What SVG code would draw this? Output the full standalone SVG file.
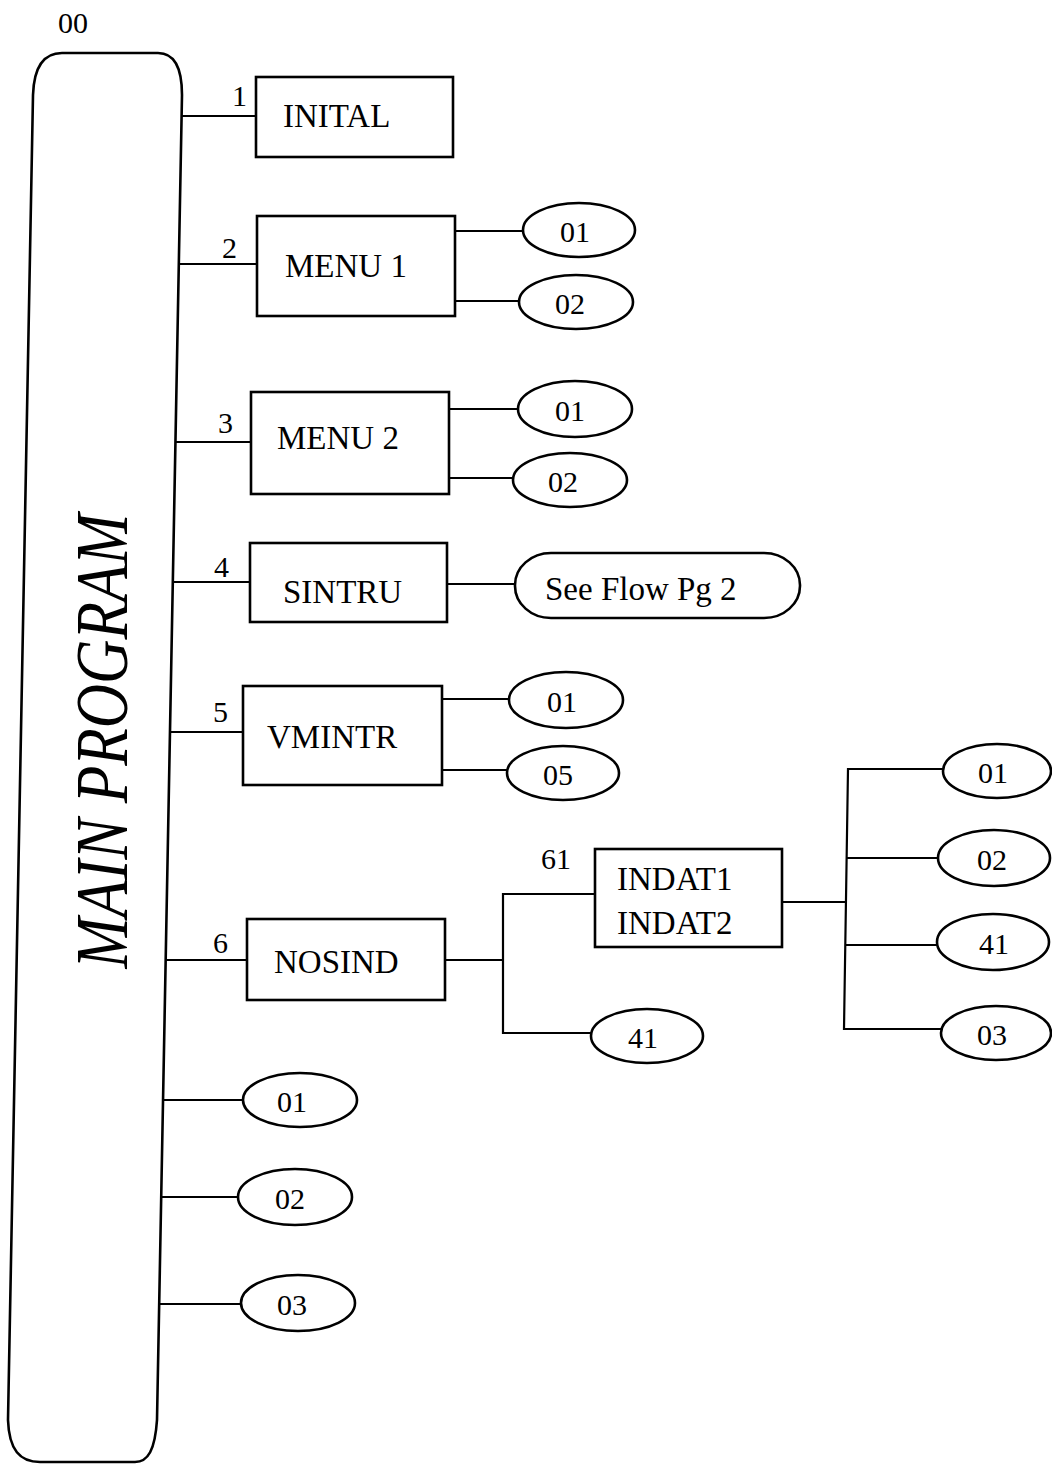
<svg xmlns="http://www.w3.org/2000/svg" width="1052" height="1464" viewBox="0 0 1052 1464">
<style>
.box{fill:#fff;stroke:#000;stroke-width:2.6}
.ov{fill:#fff;stroke:#000;stroke-width:2.6}
.ln{fill:none;stroke:#000;stroke-width:2.2}
.t{font-family:"Liberation Serif","Times New Roman",serif;fill:#000}
.bt{font-size:33px}
.ot{font-size:30px;text-anchor:middle}
.lb{font-size:30px}
</style>
<rect width="1052" height="1464" fill="#fff"/>
<g id="connectors">
<path class="ln" d="M181.6 116H256"/>
<path class="ln" d="M179.2 264H257"/>
<path class="ln" d="M175.8 442H251"/>
<path class="ln" d="M173.2 582H250"/>
<path class="ln" d="M170.3 732H243"/>
<path class="ln" d="M165.8 960H247"/>
<path class="ln" d="M163.1 1100H243"/>
<path class="ln" d="M161.3 1197H238"/>
<path class="ln" d="M159.3 1304H241"/>
<path class="ln" d="M455 231H523"/>
<path class="ln" d="M455 301H519"/>
<path class="ln" d="M449 409H518"/>
<path class="ln" d="M449 478H514"/>
<path class="ln" d="M447 584H515"/>
<path class="ln" d="M442 699H509"/>
<path class="ln" d="M442 770H507"/>
<path class="ln" d="M445 960H503"/>
<path class="ln" d="M595 894H503V1033H591"/>
<path class="ln" d="M782 902H846"/>
<path class="ln" d="M943 769H848L844 1029H941"/>
<path class="ln" d="M847 858H938"/>
<path class="ln" d="M845 945H937"/>
</g>
<g id="main">
<path class="box" d="M33 95C34 65 45 53 62 53L158 53C175 53 182 68 182 95L157 1420C155 1450 148 1462 135 1462L40 1462C20 1462 9 1450 8 1420Z"/>
<text class="t" font-style="italic" font-size="74" text-anchor="middle" textLength="455" lengthAdjust="spacingAndGlyphs" transform="translate(127 741) rotate(-90)">MAIN PROGRAM</text>
<text class="t lb" x="58" y="33">00</text>
</g>
<g id="lbl1"><text class="t lb" x="232" y="106">1</text></g>
<g id="lbl2"><text class="t lb" x="222" y="258">2</text></g>
<g id="lbl3"><text class="t lb" x="218" y="433">3</text></g>
<g id="lbl4"><text class="t lb" x="214" y="577">4</text></g>
<g id="lbl5"><text class="t lb" x="213" y="722">5</text></g>
<g id="lbl6"><text class="t lb" x="213" y="953">6</text></g>
<g id="lbl61"><text class="t lb" x="541" y="869">61</text></g>
<g id="initial"><rect class="box" x="256" y="77" width="197" height="80"/><text class="t bt" x="283" y="127">INITAL</text></g>
<g id="menu1"><rect class="box" x="257" y="216" width="198" height="100"/><text class="t bt" x="285" y="277">MENU 1</text></g>
<g id="menu2"><rect class="box" x="251" y="392" width="198" height="102"/><text class="t bt" x="277" y="449">MENU 2</text></g>
<g id="sintru"><rect class="box" x="250" y="543" width="197" height="79"/><text class="t bt" x="283" y="603">SINTRU</text></g>
<g id="vmintr"><rect class="box" x="243" y="686" width="199" height="99"/><text class="t bt" x="267" y="748">VMINTR</text></g>
<g id="nosind"><rect class="box" x="247" y="919" width="198" height="81"/><text class="t bt" x="274" y="973">NOSIND</text></g>
<g id="indat"><rect class="box" x="595" y="849" width="187" height="98"/><text class="t bt" x="617" y="890">INDAT1</text><text class="t bt" x="617" y="934">INDAT2</text></g>
<g id="seeflow"><rect class="box" x="515" y="553" width="285" height="65" rx="36" ry="32"/><text class="t bt" x="545" y="600" font-size="32">See Flow Pg 2</text></g>
<g id="m1o1"><ellipse class="ov" cx="579" cy="230" rx="56" ry="27"/><text class="t ot" x="575" y="242">01</text></g>
<g id="m1o2"><ellipse class="ov" cx="576" cy="302" rx="57" ry="27"/><text class="t ot" x="570" y="314">02</text></g>
<g id="m2o1"><ellipse class="ov" cx="575" cy="409" rx="57" ry="28"/><text class="t ot" x="570" y="421">01</text></g>
<g id="m2o2"><ellipse class="ov" cx="570" cy="480" rx="57" ry="27"/><text class="t ot" x="563" y="492">02</text></g>
<g id="v1"><ellipse class="ov" cx="566" cy="700" rx="57" ry="28"/><text class="t ot" x="562" y="712">01</text></g>
<g id="v5"><ellipse class="ov" cx="563" cy="773" rx="56" ry="27"/><text class="t ot" x="558" y="785">05</text></g>
<g id="n41"><ellipse class="ov" cx="647" cy="1036" rx="56" ry="27"/><text class="t ot" x="643" y="1048">41</text></g>
<g id="i01"><ellipse class="ov" cx="997" cy="771" rx="54" ry="27"/><text class="t ot" x="993" y="783">01</text></g>
<g id="i02"><ellipse class="ov" cx="994" cy="858" rx="56" ry="28"/><text class="t ot" x="992" y="870">02</text></g>
<g id="i41"><ellipse class="ov" cx="993" cy="942" rx="56" ry="28"/><text class="t ot" x="994" y="954">41</text></g>
<g id="i03"><ellipse class="ov" cx="996" cy="1033" rx="55" ry="27"/><text class="t ot" x="992" y="1045">03</text></g>
<g id="b01"><ellipse class="ov" cx="300" cy="1100" rx="57" ry="27"/><text class="t ot" x="292" y="1112">01</text></g>
<g id="b02"><ellipse class="ov" cx="295" cy="1197" rx="57" ry="28"/><text class="t ot" x="290" y="1209">02</text></g>
<g id="b03"><ellipse class="ov" cx="298" cy="1303" rx="57" ry="28"/><text class="t ot" x="292" y="1315">03</text></g>
</svg>
